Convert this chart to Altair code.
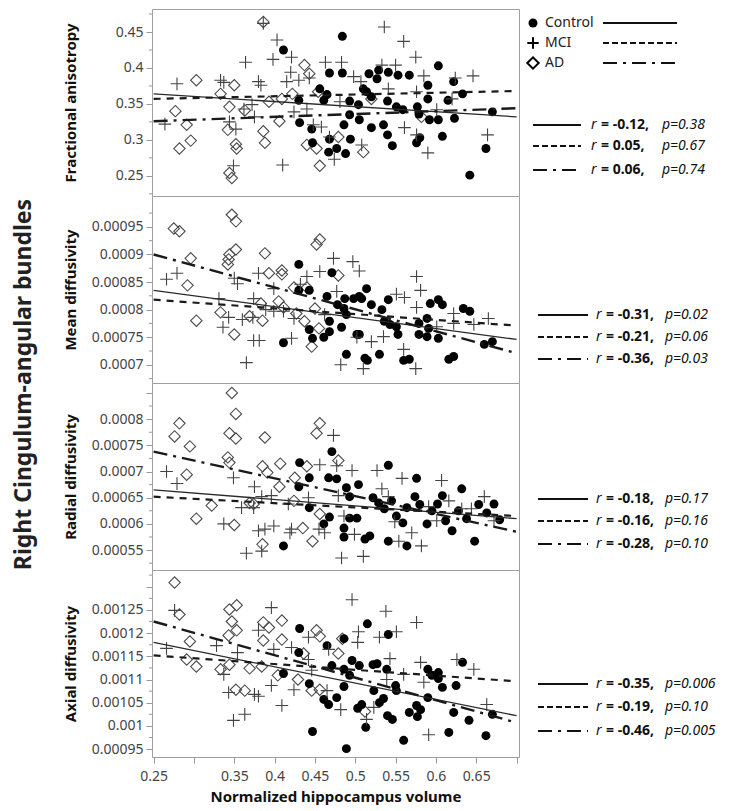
import altair as alt
import pandas as pd

FONT = "Noto Sans"
W, H = 367, 187
X_DOMAIN = [0.248, 0.703]
X_TICKS = [0.25, 0.3, 0.35, 0.4, 0.45, 0.5, 0.55, 0.6, 0.65, 0.7]
LINE_X = [0.25, 0.70]

# ---------------- Fractional anisotropy ----------------
fa_ctrl = [(0.411,0.425),(0.484,0.444),(0.468,0.393),(0.484,0.393),(0.456,0.371),(0.430,0.355),(0.465,0.363),
           (0.461,0.355),(0.431,0.324),(0.446,0.315),(0.447,0.296),(0.468,0.301),(0.467,0.283),(0.477,0.288),
           (0.488,0.281),(0.494,0.301),(0.493,0.354),(0.504,0.349),(0.493,0.335),(0.486,0.321),(0.505,0.328),
           (0.517,0.392),(0.529,0.397),(0.527,0.385),(0.541,0.394),(0.553,0.390),(0.567,0.390),(0.603,0.403),
           (0.590,0.376),(0.622,0.381),(0.633,0.364),(0.514,0.367),(0.520,0.360),(0.540,0.354),(0.551,0.346),
           (0.559,0.342),(0.577,0.346),(0.590,0.357),(0.615,0.355),(0.520,0.317),(0.535,0.321),(0.540,0.307),
           (0.546,0.292),(0.576,0.296),(0.580,0.303),(0.592,0.328),(0.603,0.328),(0.623,0.330),(0.608,0.305),
           (0.670,0.339),(0.662,0.288),(0.642,0.251),(0.579,0.336),(0.510,0.371)]
fa_mci = [(0.279,0.378),(0.264,0.322),(0.333,0.383),(0.337,0.380),(0.364,0.408),(0.380,0.381),(0.383,0.376),
          (0.403,0.439),(0.398,0.412),(0.421,0.415),(0.420,0.394),(0.430,0.383),(0.443,0.386),(0.463,0.408),
          (0.483,0.408),(0.498,0.388),(0.362,0.343),(0.372,0.349),(0.375,0.332),(0.344,0.325),(0.352,0.315),
          (0.410,0.265),(0.349,0.264),(0.424,0.339),(0.440,0.343),(0.448,0.321),(0.458,0.318),(0.468,0.304),
          (0.474,0.273),(0.481,0.353),(0.508,0.293),(0.415,0.381),(0.386,0.462),(0.536,0.457),(0.560,0.437),
          (0.575,0.415),(0.533,0.404),(0.550,0.404),(0.585,0.389),(0.624,0.386),(0.646,0.389),(0.541,0.371),
          (0.576,0.367),(0.620,0.357),(0.601,0.342),(0.561,0.317),(0.576,0.307),(0.590,0.282),(0.664,0.307),
          (0.507,0.381)]
fa_ad = [(0.386,0.464),(0.277,0.340),(0.303,0.383),(0.291,0.321),(0.282,0.288),(0.296,0.299),(0.333,0.364),
         (0.350,0.376),(0.344,0.346),(0.363,0.341),(0.342,0.314),(0.352,0.294),(0.353,0.288),(0.344,0.254),
         (0.347,0.247),(0.386,0.312),(0.388,0.296),(0.393,0.353),(0.409,0.357),(0.406,0.326),(0.437,0.404),
         (0.443,0.392),(0.422,0.364),(0.440,0.293),(0.452,0.288),(0.456,0.264),(0.479,0.304),(0.454,0.367),
         (0.510,0.283),(0.582,0.332),(0.520,0.357)]
fa_lines = {"Control": [0.364, 0.332], "MCI": [0.357, 0.368], "AD": [0.326, 0.344]}
fa_r = ["-0.12", "0.05", "0.06"]
fa_p = ["0.38", "0.67", "0.74"]

# ---------------- Mean diffusivity ----------------
md_ctrl = [(0.430,0.000882),(0.411,0.000740),(0.430,0.000835),(0.443,0.000835),(0.443,0.000764),(0.447,0.000748),
           (0.461,0.000750),(0.468,0.000760),(0.471,0.000867),(0.465,0.000824),(0.478,0.000809),(0.486,0.000802),
           (0.468,0.000779),(0.483,0.000768),(0.489,0.000719),(0.512,0.000712),(0.487,0.000820),(0.498,0.000820),
           (0.505,0.000824),(0.514,0.000838),(0.489,0.000791),(0.502,0.000755),(0.508,0.000820),(0.520,0.000809),
           (0.533,0.000800),(0.541,0.000818),(0.536,0.000779),(0.543,0.000773),(0.551,0.000769),(0.553,0.000755),
           (0.505,0.000755),(0.530,0.000719),(0.515,0.000708),(0.560,0.000708),(0.567,0.000710),(0.579,0.000775),
           (0.589,0.000784),(0.591,0.000766),(0.579,0.000755),(0.589,0.000751),(0.603,0.000748),(0.593,0.000811),
           (0.603,0.000818),(0.608,0.000809),(0.616,0.000710),(0.622,0.000715),(0.634,0.000802),(0.642,0.000797),
           (0.660,0.000737),(0.670,0.000742)]
md_mci = [(0.266,0.000855),(0.279,0.000866),(0.331,0.000820),(0.336,0.000768),(0.343,0.000786),(0.350,0.000857),
          (0.354,0.000847),(0.365,0.000704),(0.360,0.000782),(0.373,0.000786),(0.374,0.000820),(0.380,0.000866),
          (0.381,0.000744),(0.374,0.000744),(0.389,0.000800),(0.399,0.000797),(0.399,0.000838),(0.411,0.000797),
          (0.421,0.000748),(0.424,0.000784),(0.432,0.000846),(0.440,0.000860),(0.456,0.000869),(0.473,0.000893),
          (0.497,0.000887),(0.477,0.000833),(0.482,0.000700),(0.510,0.000693),(0.462,0.000791),(0.576,0.000860),
          (0.581,0.000835),(0.576,0.000804),(0.551,0.000828),(0.561,0.000822),(0.535,0.000751),(0.520,0.000742),
          (0.560,0.000728),(0.575,0.000693),(0.601,0.000769),(0.622,0.000793),(0.622,0.000775),(0.647,0.000773),
          (0.665,0.000784),(0.505,0.000870),(0.502,0.000750)]
md_ad = [(0.275,0.000947),(0.282,0.000942),(0.296,0.000893),(0.292,0.000844),(0.303,0.000780),(0.347,0.000972),
         (0.352,0.000960),(0.352,0.000909),(0.344,0.000900),(0.343,0.000891),(0.342,0.000882),(0.388,0.000902),
         (0.393,0.000866),(0.409,0.000871),(0.409,0.000864),(0.452,0.000918),(0.456,0.000927),(0.479,0.000862),
         (0.333,0.000795),(0.350,0.000755),(0.369,0.000788),(0.385,0.000780),(0.383,0.000811),(0.405,0.000815),
         (0.411,0.000804),(0.424,0.000840),(0.440,0.000840),(0.450,0.000802),(0.437,0.000779),(0.446,0.000733),
         (0.455,0.000766),(0.427,0.000793)]
md_lines = {"Control": [0.000835, 0.000746], "MCI": [0.000818, 0.000771], "AD": [0.000900, 0.000721]}
md_r = ["-0.31", "-0.21", "-0.36"]
md_p = ["0.02", "0.06", "0.03"]

# ---------------- Radial diffusivity ----------------
rd_ctrl = [(0.471,0.000738),(0.431,0.000717),(0.430,0.000671),(0.443,0.000688),(0.467,0.000688),(0.477,0.000686),
           (0.443,0.000631),(0.461,0.000600),(0.468,0.000613),(0.486,0.000592),(0.486,0.000575),(0.493,0.000611),
           (0.411,0.000558),(0.489,0.000669),(0.504,0.000675),(0.493,0.000652),(0.502,0.000611),(0.512,0.000571),
           (0.522,0.000650),(0.529,0.000640),(0.536,0.000629),(0.545,0.000644),(0.551,0.000615),(0.559,0.000602),
           (0.564,0.000631),(0.574,0.000652),(0.580,0.000637),(0.589,0.000600),(0.595,0.000625),(0.602,0.000638),
           (0.608,0.000654),(0.612,0.000606),(0.620,0.000587),(0.628,0.000625),(0.632,0.000667),(0.638,0.000610),
           (0.648,0.000567),(0.653,0.000637),(0.663,0.000621),(0.672,0.000638),(0.679,0.000608),(0.541,0.000712),
           (0.576,0.000687),(0.518,0.000577),(0.541,0.000567),(0.564,0.000558)]
rd_mci = [(0.266,0.000700),(0.279,0.000677),(0.337,0.000600),(0.349,0.000688),(0.375,0.000671),(0.384,0.000652),
          (0.359,0.000631),(0.374,0.000631),(0.399,0.000596),(0.380,0.000587),(0.388,0.000590),(0.421,0.000590),
          (0.419,0.000583),(0.365,0.000544),(0.384,0.000548),(0.396,0.000654),(0.417,0.000638),(0.442,0.000650),
          (0.455,0.000590),(0.462,0.000583),(0.473,0.000769),(0.456,0.000713),(0.477,0.000711),(0.496,0.000702),
          (0.483,0.000535),(0.510,0.000538),(0.499,0.000580),(0.486,0.000615),(0.479,0.000654),(0.533,0.000667),
          (0.541,0.000652),(0.549,0.000604),(0.554,0.000567),(0.570,0.000583),(0.582,0.000558),(0.591,0.000633),
          (0.601,0.000606),(0.616,0.000644),(0.632,0.000629),(0.644,0.000629),(0.660,0.000652),(0.672,0.000606),
          (0.527,0.000702),(0.558,0.000687),(0.607,0.000683)]
rd_ad = [(0.347,0.000850),(0.352,0.000810),(0.344,0.000773),(0.352,0.000763),(0.282,0.000792),(0.276,0.000767),
         (0.295,0.000748),(0.291,0.000694),(0.303,0.000610),(0.342,0.000727),(0.344,0.000717),(0.388,0.000765),
         (0.385,0.000710),(0.391,0.000698),(0.407,0.000715),(0.406,0.000671),(0.425,0.000688),(0.440,0.000710),
         (0.456,0.000792),(0.452,0.000773),(0.479,0.000721),(0.424,0.000644),(0.435,0.000592),(0.447,0.000567),
         (0.456,0.000619),(0.385,0.000561),(0.350,0.000598),(0.322,0.000635),(0.369,0.000640),(0.374,0.000638)]
rd_lines = {"Control": [0.000665, 0.000610], "MCI": [0.000652, 0.000615], "AD": [0.000738, 0.000585]}
rd_r = ["-0.18", "-0.16", "-0.28"]
rd_p = ["0.17", "0.16", "0.10"]

# ---------------- Axial diffusivity ----------------
ax_ctrl = [(0.431,0.001210),(0.411,0.001113),(0.430,0.001158),(0.443,0.001091),(0.447,0.000988),(0.461,0.001057),
           (0.467,0.001046),(0.477,0.001061),(0.465,0.001173),(0.486,0.001188),(0.489,0.000951),(0.471,0.001130),
           (0.486,0.001122),(0.486,0.001085),(0.493,0.001109),(0.496,0.001141),(0.505,0.001130),(0.503,0.001038),
           (0.508,0.001046),(0.513,0.000997),(0.515,0.001220),(0.522,0.001132),(0.527,0.001134),(0.523,0.001076),
           (0.530,0.001050),(0.535,0.001059),(0.539,0.001122),(0.541,0.001197),(0.540,0.001022),(0.546,0.001014),
           (0.550,0.001087),(0.551,0.001076),(0.560,0.000969),(0.567,0.001029),(0.576,0.001044),(0.581,0.001035),
           (0.577,0.001020),(0.590,0.001061),(0.590,0.001122),(0.595,0.001109),(0.603,0.001115),(0.603,0.001102),
           (0.608,0.001083),(0.616,0.000986),(0.622,0.001029),(0.625,0.001087),(0.633,0.001137),(0.641,0.001012),
           (0.662,0.000979),(0.670,0.001025)]
ax_mci = [(0.266,0.001167),(0.276,0.001249),(0.328,0.001173),(0.337,0.001111),(0.343,0.001072),(0.349,0.001012),
          (0.363,0.001025),(0.354,0.001158),(0.375,0.001068),(0.380,0.001064),(0.396,0.001255),(0.380,0.001206),
          (0.399,0.001165),(0.396,0.001087),(0.409,0.001044),(0.424,0.001078),(0.421,0.001169),(0.442,0.001191),
          (0.442,0.001143),(0.446,0.001120),(0.465,0.001076),(0.467,0.001165),(0.482,0.001035),(0.496,0.001272),
          (0.504,0.001203),(0.503,0.001180),(0.514,0.001014),(0.523,0.001040),(0.530,0.001191),(0.538,0.001247),
          (0.551,0.001203),(0.543,0.001145),(0.539,0.001100),(0.560,0.001111),(0.576,0.001223),(0.581,0.001137),
          (0.591,0.000981),(0.585,0.001094),(0.626,0.001143),(0.647,0.001122),(0.663,0.001046)]
ax_ad = [(0.276,0.001309),(0.282,0.001240),(0.295,0.001182),(0.291,0.001143),(0.303,0.001128),(0.333,0.001122),
         (0.344,0.001251),(0.353,0.001260),(0.347,0.001225),(0.343,0.001195),(0.353,0.001206),(0.344,0.001132),
         (0.369,0.001124),(0.352,0.001078),(0.363,0.001076),(0.386,0.001223),(0.393,0.001212),(0.409,0.001227),
         (0.386,0.001184),(0.409,0.001186),(0.384,0.001128),(0.404,0.001109),(0.429,0.001100),(0.436,0.001156),
         (0.446,0.001076),(0.456,0.001078),(0.452,0.001206),(0.456,0.001193),(0.479,0.001156),(0.484,0.001188),
         (0.512,0.001031)]
ax_lines = {"Control": [0.001180, 0.001022], "MCI": [0.001152, 0.001096], "AD": [0.001225, 0.001007]}
ax_r = ["-0.35", "-0.19", "-0.46"]
ax_p = ["0.006", "0.10", "0.005"]

# ---------------- styles ----------------
CROSS = "M-1,0H1M0,-1V1"
LINE_STYLE = {
    "Control": dict(strokeWidth=1.3, color="#2a2a2a"),
    "MCI": dict(strokeWidth=2.2, color="#1a1a1a", strokeDash=[7, 6]),
    "AD": dict(strokeWidth=2.4, color="#1a1a1a", strokeDash=[14, 6, 3, 6]),
}
SAMPLE_STYLE = {
    "Control": dict(strokeWidth=2.0, color="#111"),
    "MCI": dict(strokeWidth=2.0, color="#111", strokeDash=[6, 3]),
    "AD": dict(strokeWidth=2.2, color="#111", strokeDash=[14, 6, 3, 6]),
}
ONE = alt.InlineData(values=[{}])


def pts_df(pairs):
    return pd.DataFrame({"x": [p[0] for p in pairs], "y": [p[1] for p in pairs]})


def make_panel(title, ydom, yvals, yminor, hide_above, ctrl, mci, ad, lines, rvals, pvals,
               rows_y, ann_x, bottom=False, legend=False):
    xsc = alt.Scale(domain=X_DOMAIN, nice=False, zero=False)
    ysc = alt.Scale(domain=ydom, nice=False, zero=False)
    lab_expr = "datum.label"
    if hide_above is not None:
        lab_expr = "datum.value > " + repr(hide_above) + " ? '' : datum.label"
    yaxis = alt.Axis(title=title, values=yvals, tickCount=40, format=".3~g", labelExpr=lab_expr,
                     labelOverlap=False, labelFlush=False,
                     titleX=-82, titleY=H / 2, titleAngle=-90, titleAlign="center",
                     titleBaseline="middle")

    def X(first=False):
        if bottom:
            if first:
                return alt.X("x:Q", scale=xsc, axis=alt.Axis(
                    title="Normalized hippocampus volume", values=X_TICKS, tickCount=40, format=".3~g",
                    labelExpr="(abs(datum.value-0.3)<0.001 || abs(datum.value-0.7)<0.001) ? '' : datum.label",
                    labelOverlap=False, labelFlush=True, tickSize=6, labelPadding=6, titlePadding=6))
            return alt.X("x:Q", scale=xsc)
        return alt.X("x:Q", scale=xsc, axis=None)

    def Y(first=False):
        if first:
            return alt.Y("y:Q", scale=ysc, axis=yaxis)
        return alt.Y("y:Q", scale=ysc)

    layers = []
    # points (first layer carries the axes)
    layers.append(alt.Chart(pts_df(ad)).mark_point(shape="diamond", filled=False, color="#4a4a4a",
                                                   strokeWidth=1.1, size=130, opacity=1).encode(
        x=X(True), y=Y(True)))
    layers.append(alt.Chart(pts_df(ctrl)).mark_point(shape="circle", filled=True, color="#000",
                                                     size=80, opacity=1).encode(x=X(), y=Y()))
    layers.append(alt.Chart(pts_df(mci)).mark_point(shape=CROSS, filled=False, color="#444",
                                                    strokeWidth=1.1, size=160, opacity=1).encode(
        x=X(), y=Y()))
    # minor ticks on the y axis
    layers.append(alt.Chart(pd.DataFrame({"y": yminor})).mark_rule(color="#999", strokeWidth=1).encode(
        x=alt.value(-3), x2=alt.value(0), y=Y()))
    # regression lines
    for g in ["Control", "MCI", "AD"]:
        df = pd.DataFrame({"x": LINE_X, "y": lines[g]})
        layers.append(alt.Chart(df).mark_line(clip=True, **LINE_STYLE[g]).encode(x=X(), y=Y()))
    # annotation rows (r and p)
    sx0, sx1, xr, xeq, xp = ann_x
    for i, g in enumerate(["Control", "MCI", "AD"]):
        yy = rows_y[i]
        layers.append(alt.Chart(ONE).mark_rule(**SAMPLE_STYLE[g]).encode(
            x=alt.value(sx0), x2=alt.value(sx1), y=alt.value(yy)))
        layers.append(alt.Chart(ONE).mark_text(text="r", font=FONT, fontSize=14, fontStyle="italic",
                                               align="left", baseline="middle", color="#111").encode(
            x=alt.value(xr), y=alt.value(yy)))
        layers.append(alt.Chart(ONE).mark_text(text="= " + rvals[i] + ",", font=FONT, fontSize=14,
                                               fontWeight="bold", align="left", baseline="middle",
                                               color="#111").encode(x=alt.value(xeq), y=alt.value(yy)))
        layers.append(alt.Chart(ONE).mark_text(text="p=" + pvals[i], font=FONT, fontSize=14,
                                               fontStyle="italic", align="left", baseline="middle",
                                               color="#111").encode(x=alt.value(xp), y=alt.value(yy)))
    if legend:
        leg_y = [14, 34, 54]
        shapes = [dict(shape="circle", filled=True, color="#000", size=80),
                  dict(shape=CROSS, filled=False, color="#000", strokeWidth=2, size=130),
                  dict(shape="diamond", filled=False, color="#000", strokeWidth=2, size=130)]
        for i, g in enumerate(["Control", "MCI", "AD"]):
            layers.append(alt.Chart(ONE).mark_point(opacity=1, **shapes[i]).encode(
                x=alt.value(381), y=alt.value(leg_y[i])))
            layers.append(alt.Chart(ONE).mark_text(text=g, font=FONT, fontSize=14, align="left",
                                                   baseline="middle", color="#222").encode(
                x=alt.value(393), y=alt.value(leg_y[i])))
            layers.append(alt.Chart(ONE).mark_rule(**SAMPLE_STYLE[g]).encode(
                x=alt.value(451), x2=alt.value(525), y=alt.value(leg_y[i])))
    return alt.layer(*layers).properties(width=W, height=H)


ANN1 = (381, 429, 439, 449, 510)
ANN = (386, 436, 444, 454, 513)

p1 = make_panel("Fractional anisotropy", [0.222, 0.482], [0.25, 0.3, 0.35, 0.4, 0.45],
                [0.225, 0.275, 0.325, 0.375, 0.425, 0.475], None,
                fa_ctrl, fa_mci, fa_ad, fa_lines, fa_r, fa_p, [116, 137, 161], ANN1, legend=True)
p2 = make_panel("Mean diffusivity", [0.000667, 0.001006],
                [0.0007, 0.00075, 0.0008, 0.00085, 0.0009, 0.00095],
                [0.000675, 0.000725, 0.000775, 0.000825, 0.000875, 0.000925, 0.000975], None,
                md_ctrl, md_mci, md_ad, md_lines, md_r, md_p, [119, 141, 163], ANN)
p3 = make_panel("Radial diffusivity", [0.000512, 0.000869],
                [0.00055, 0.0006, 0.00065, 0.0007, 0.00075, 0.0008, 0.00085],
                [0.000525, 0.000575, 0.000625, 0.000675, 0.000725, 0.000775, 0.000825], 0.000845,
                rd_ctrl, rd_mci, rd_ad, rd_lines, rd_r, rd_p, [116, 138, 161], ANN)
p4 = make_panel("Axial diffusivity", [0.000933, 0.001336],
                [0.00095, 0.001, 0.00105, 0.0011, 0.00115, 0.0012, 0.00125, 0.0013],
                [0.000975, 0.001025, 0.001075, 0.001125, 0.001175, 0.001225, 0.001275, 0.001325], 0.001295,
                ax_ctrl, ax_mci, ax_ad, ax_lines, ax_r, ax_p, [114, 137, 161], ANN, bottom=True)

chart = alt.vconcat(
    p1, p2, p3, p4, spacing=0, bounds="flush",
    title=alt.TitleParams("Right Cingulum-angular bundles", orient="left", anchor="middle",
                          font=FONT, fontSize=23, fontWeight="bold", color="#222", offset=27, dx=22),
).properties(
    padding={"left": 4, "top": 0, "right": 2, "bottom": 2}
).configure_view(
    stroke="#a0a0a0", strokeWidth=1
).configure_axis(
    grid=False, domain=False, tickColor="#999", tickSize=6, labelColor="#444", labelFont=FONT,
    labelFontSize=14, titleFont=FONT, titleFontSize=15, titleFontWeight="bold", titleColor="#111",
    labelPadding=3
)

chart.save("out.html", embed_options={"renderer": "svg", "actions": False})
